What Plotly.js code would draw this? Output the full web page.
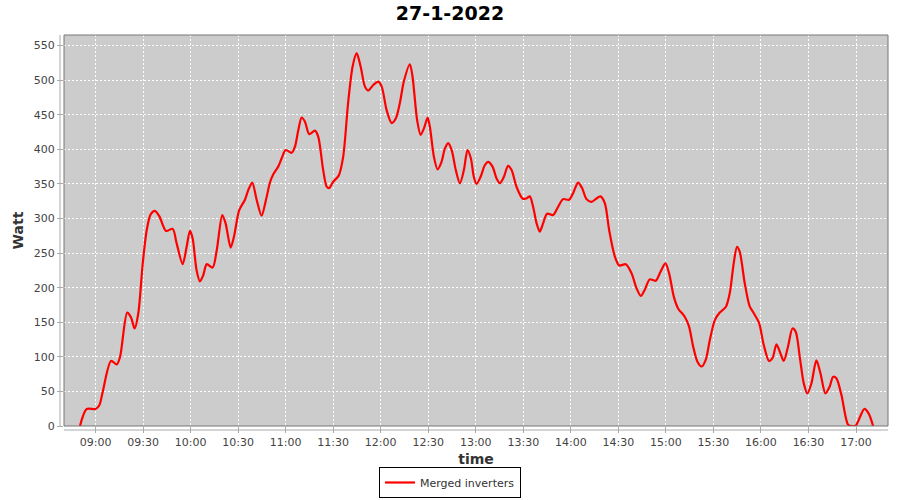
<!DOCTYPE html>
<html>
<head>
<meta charset="utf-8">
<script src="https://cdn.plot.ly/plotly-3.0.1.min.js"></script>
<style>html,body{margin:0;padding:0;background:#fff;}#chart{width:900px;height:500px;}</style>
</head>
<body>
<div id="chart"></div>
<script>
const day = "2022-01-27";
const times = ["08:50:12","08:54:24","09:00:00","09:02:24","09:04:30","09:09:48","09:13:24","09:15:30","09:20:00","09:22:24","09:24:42","09:27:00","09:29:48","09:32:18","09:34:48","09:37:30","09:40:18","09:44:30","09:48:42","09:51:12","09:55:00","09:57:30","09:59:36","10:01:18","10:03:48","10:05:54","10:08:00","10:10:12","10:13:54","10:16:30","10:20:00","10:22:06","10:25:18","10:27:24","10:30:42","10:34:18","10:36:24","10:38:54","10:41:42","10:44:48","10:47:36","10:50:06","10:52:12","10:55:18","10:57:30","11:00:00","11:03:48","11:05:54","11:08:00","11:10:06","11:12:12","11:14:54","11:18:30","11:20:36","11:23:42","11:25:54","11:27:30","11:30:00","11:33:30","11:36:18","11:39:30","11:42:18","11:44:48","11:47:18","11:50:00","11:52:06","11:55:18","11:58:24","12:00:36","12:03:42","12:06:54","12:09:36","12:12:06","12:14:36","12:18:24","12:20:06","12:23:00","12:25:12","12:27:24","12:29:36","12:31:00","12:33:36","12:35:54","12:38:24","12:40:30","12:42:36","12:44:48","12:47:24","12:50:00","12:52:30","12:54:48","12:56:54","12:58:48","13:00:30","13:03:00","13:05:42","13:07:48","13:10:36","13:13:06","13:15:12","13:17:42","13:20:24","13:22:36","13:25:42","13:29:30","13:32:00","13:34:06","13:36:12","13:38:24","13:40:24","13:42:30","13:45:00","13:48:48","13:52:00","13:55:06","13:58:54","14:01:30","14:04:36","14:07:06","14:09:54","14:13:00","14:16:12","14:18:42","14:21:30","14:24:12","14:27:48","14:30:36","14:34:42","14:38:18","14:41:30","14:44:12","14:46:42","14:49:48","14:53:36","14:56:36","14:59:42","15:02:00","15:05:00","15:07:42","15:11:54","15:14:36","15:17:12","15:19:54","15:22:36","15:25:12","15:27:42","15:30:54","15:34:00","15:37:48","15:40:18","15:42:48","15:44:54","15:46:36","15:49:48","15:52:54","15:55:30","15:58:48","16:01:48","16:05:06","16:07:18","16:09:48","16:12:18","16:14:24","16:17:06","16:19:54","16:22:00","16:24:30","16:27:00","16:29:18","16:31:54","16:35:00","16:37:36","16:40:42","16:43:24","16:45:30","16:47:36","16:50:48","16:55:00","16:57:30","17:00:00","17:02:36","17:05:12","17:08:00","17:10:48"];
const watts = [0,24.6,24.6,30,49,94,89,100,164,157,141,163,235,283,306,311,303,282,285,264,234,259,282,271,225,209,218,234,229,254,305,293,258,274,312,327,341,352,327,304,327,352,364,375,387,399,395,404,428,446,440,422,427,418,370,346,344,353,362,389,469,520,539,520,491,485,493,498,491,457,438,445,467,498,523,505,442,421,431,446,433,389,371,382,401,409,399,370,351,370,399,387,360,350,360,377,382,375,358,351,360,376,370,346,329,329,332,317,293,281,293,307,305,317,328,327,337,352,344,328,324,329,332,322,283,245,232,234,221,199,188,197,212,210,223,235,221,187,170,158,144,115,93,86,96,124,153,164,172,192,235,259,252,206,173,163,149,117,94,98,118,105,94,115,141,136,100,62,47,62,95,76,47,57,71,69,45,2,0,1,13.5,24.6,18,0];
const seriesName = "Merged inverters";
const chartTitle = "27-1-2022";
const xTitle = "time";
const yTitle = "Watt";

const x = times.map(t => day + " " + t);

const trace = {
  x: x, y: watts, type: "scatter", mode: "lines", name: seriesName,
  line: {color: "#ff0000", width: 2.2, shape: "spline", smoothing: 0.8},
  cliponaxis: true
};

const axisGray = "#aaaaaa";
const layout = {
  width: 900, height: 500,
  margin: {l: 64, r: 12, t: 35, b: 74, autoexpand: false},
  paper_bgcolor: "#ffffff",
  plot_bgcolor: "#cccccc",
  font: {family: "DejaVu Sans, sans-serif", color: "#444444", size: 11},
  title: {text: "<b>" + chartTitle + "</b>", x: 0.5, xref: "container", xanchor: "center", y: 0.973, yanchor: "middle",
          font: {family: "DejaVu Sans, sans-serif", size: 19, color: "#000000"}},
  xaxis: {
    type: "date",
    range: [day + " 08:40:06", day + " 17:20:12"],
    tick0: day + " 09:00:00", dtick: 30 * 60 * 1000,
    tickformat: "%H:%M",
    showgrid: true, gridcolor: "#ffffff", griddash: "2px,2px", gridwidth: 1,
    zeroline: false,
    ticks: "outside", ticklen: 6, tickcolor: axisGray,
    showline: false,
    tickfont: {size: 11, color: "#444444"},
    title: {text: "<b>" + xTitle + "</b>", font: {size: 14, color: "#333333"}, standoff: 7}
  },
  yaxis: {
    range: [0, 565.3],
    tick0: 0, dtick: 50,
    showgrid: true, gridcolor: "#ffffff", griddash: "2px,2px", gridwidth: 1,
    zeroline: false,
    ticks: "outside", ticklen: 6, tickcolor: axisGray,
    showline: false,
    tickfont: {size: 11, color: "#444444"},
    title: {text: "<b>" + yTitle + "</b>", font: {size: 14, color: "#333333"}, standoff: 6}
  },
  shapes: [
    {type: "rect", xref: "paper", yref: "paper", x0: 0, x1: 1, y0: 0, y1: 1,
     line: {color: "#777777", width: 1}, fillcolor: "rgba(0,0,0,0)"},
    {type: "line", xref: "paper", yref: "paper", x0: -4/824, x1: -4/824, y0: 0, y1: 1,
     line: {color: axisGray, width: 1}},
    {type: "line", xref: "paper", yref: "paper", x0: 0, x1: 1, y0: -4/391, y1: -4/391,
     line: {color: axisGray, width: 1}}
  ],
  showlegend: true,
  legend: {
    orientation: "h", xref: "container", x: 0.5, xanchor: "center",
    yref: "container", y: 0.004, yanchor: "bottom",
    bordercolor: "#000000", borderwidth: 1, bgcolor: "#ffffff",
    font: {size: 11, color: "#333333"},
    itemwidth: 30
  }
};

Plotly.newPlot("chart", [trace], layout, {displayModeBar: false, staticPlot: true});
</script>
</body>
</html>
